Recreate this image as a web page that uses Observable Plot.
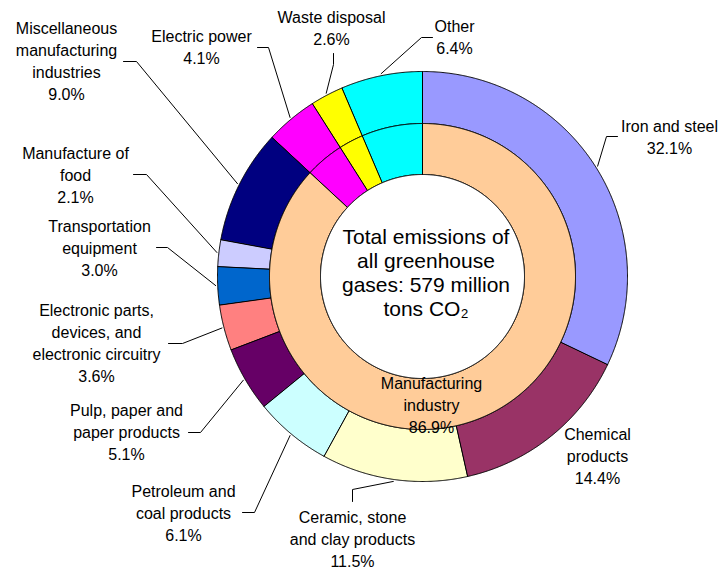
<!DOCTYPE html>
<html>
<head>
<meta charset="utf-8">
<script src="https://cdn.jsdelivr.net/npm/d3@7"></script>
<script src="https://cdn.jsdelivr.net/npm/@observablehq/plot@0.6"></script>
<style>
  html, body { margin: 0; padding: 0; background: #fff; }
  #chart svg { display: block; }
</style>
</head>
<body>
<div id="chart"></div>
<script>
// ---------- DATA ----------
const categories = [
  "Iron and steel", "Chemical products", "Ceramic, stone and clay products",
  "Petroleum and coal products", "Pulp, paper and paper products",
  "Electronic parts, devices, and electronic circuitry", "Transportation equipment",
  "Manufacture of food", "Miscellaneous manufacturing industries",
  "Electric power", "Waste disposal", "Other"
];
const shares = [32.1, 14.4, 11.5, 6.1, 5.1, 3.6, 3.0, 2.1, 9.0, 4.1, 2.6, 6.4];
const labelNames = [
  "Iron and steel", "Chemical\nproducts", "Ceramic, stone\nand clay products",
  "Petroleum and\ncoal products", "Pulp, paper and\npaper products",
  "Electronic parts,\ndevices, and\nelectronic circuitry", "Transportation\nequipment",
  "Manufacture of\nfood", "Miscellaneous\nmanufacturing\nindustries",
  "Electric power", "Waste disposal", "Other"
];
const innerCategories = ["Manufacturing industry", "Electric power", "Waste disposal", "Other"];
const innerShares = [86.9, 4.1, 2.6, 6.4];
const innerLabelNames = ["Manufacturing\nindustry"];
const centerText = "Total emissions of\nall greenhouse\ngases: 579 million\ntons CO\u2082";

// ---------- STYLE / LAYOUT ----------
const palette = ["#9999FF", "#993366", "#FFFFCC", "#CCFFFF", "#660066", "#FF8080",
                 "#0066CC", "#CCCCFF", "#000080", "#FF00FF", "#FFFF00", "#00FFFF", "#FFCC99"];
const W = 724, H = 574, CX = 422, CY = 276, R0 = 102, R1 = 153, R2 = 205;
const FONT = "Liberation Sans, Arial, sans-serif";
// label layout: [text center x, first baseline y, leader end x, end y, elbow x, elbow y] (null = no leader)
const labelLayout = [
  [669, 131, 617, 136, 606, 136],
  [597, 439, null],
  [352, 522, 352, 501, 352, 489],
  [183, 496, 242, 512, 254, 512],
  [126, 415, 188, 432, 200, 432],
  [96, 315, 168, 343, 182, 343],
  [99, 231, 156, 247, 167, 247],
  [75, 158, 133, 174, 146, 174],
  [66, 33, 123, 61, 136, 61],
  [201, 41, 257, 47, 268, 47],
  [331, 22, 333, 53, 333, 64],
  [454, 31, 432, 37, 421, 37]
];
const innerLabelLayout = [[431, 388]];
const centerLayout = [425.5, 243];

// ---------- GEOMETRY ----------
const fmt = d3.format(".1f");
function angles(vals) {
  const total = d3.sum(vals);
  const cum = [0, ...d3.cumsum(vals)];
  return vals.map((v, i) => [cum[i] / total * 2 * Math.PI, cum[i + 1] / total * 2 * Math.PI]);
}
const px = (r, a) => CX + r * Math.sin(a);
const py = (r, a) => CY - r * Math.cos(a);
function ring(cats, vals, rIn, rOut, tag) {
  const pts = [];
  angles(vals).forEach(([a0, a1], i) => {
    const n = Math.max(2, Math.ceil((a1 - a0) / (Math.PI / 720)));
    const key = tag + i;
    for (let k = 0; k <= n; k++) {
      const a = a0 + (a1 - a0) * k / n;
      pts.push({key, cat: cats[i], x: px(rOut, a), y: py(rOut, a)});
    }
    for (let k = n; k >= 0; k--) {
      const a = a0 + (a1 - a0) * k / n;
      pts.push({key, cat: cats[i], x: px(rIn, a), y: py(rIn, a)});
    }
  });
  return pts;
}
const outerPts = ring(categories, shares, R1, R2, "o");
const innerPts = ring(innerCategories, innerShares, R0, R1, "i");
const holePts = d3.range(0, 1440).map(k => ({x: px(R0, k / 1440 * 2 * Math.PI), y: py(R0, k / 1440 * 2 * Math.PI)}));

const outerAngles = angles(shares);
const leaderPts = [];
const labelData = [];
categories.forEach((c, i) => {
  const L = labelLayout[i];
  const text = labelNames[i] + "\n" + fmt(shares[i]) + "%";
  const nLines = text.split("\n").length;
  labelData.push({text, x: L[0], y: L[1] + (nLines - 1) * 22});
  if (L[2] != null) {
    const mid = (outerAngles[i][0] + outerAngles[i][1]) / 2;
    leaderPts.push({key: i, x: px(R2 + 2, mid), y: py(R2 + 2, mid)});
    leaderPts.push({key: i, x: L[4], y: L[5]});
    leaderPts.push({key: i, x: L[2], y: L[3]});
  }
});
const innerLabelData = innerLabelNames.map((t, i) => {
  const text = t + "\n" + fmt(innerShares[i]) + "%";
  const n = text.split("\n").length;
  return {text, x: innerLabelLayout[i][0], y: innerLabelLayout[i][1] + (n - 1) * 22};
});
const centerData = [{text: centerText, x: centerLayout[0], y: centerLayout[1] + 3 * 24.3}];

const chart = Plot.plot({
  width: W, height: H, margin: 0,
  style: {background: "#fff", fontFamily: FONT},
  x: {domain: [0, W], range: [0, W], axis: null},
  y: {domain: [0, H], range: [0, H], axis: null},
  color: {type: "ordinal", domain: [...categories, "Manufacturing industry"], range: palette},
  marks: [
    Plot.line(outerPts, {x: "x", y: "y", z: "key", fill: "cat", stroke: "black", strokeWidth: 1, curve: "linear-closed"}),
    Plot.line(innerPts, {x: "x", y: "y", z: "key", fill: "cat", stroke: "black", strokeWidth: 1, curve: "linear-closed"}),
    Plot.line(holePts, {x: "x", y: "y", fill: "white", stroke: "black", strokeWidth: 1, curve: "linear-closed"}),
    Plot.line(leaderPts, {x: "x", y: "y", z: "key", stroke: "black", strokeWidth: 1}),
    Plot.text(labelData, {x: "x", y: "y", text: "text", fontSize: 16, lineHeight: 1.375, lineAnchor: "bottom", textAnchor: "middle", fill: "black", fontFamily: FONT}),
    Plot.text(innerLabelData, {x: "x", y: "y", text: "text", fontSize: 16, lineHeight: 1.375, lineAnchor: "bottom", textAnchor: "middle", fill: "black", fontFamily: FONT}),
    Plot.text(centerData, {x: "x", y: "y", text: "text", fontSize: 21, lineHeight: 24.3 / 21, lineAnchor: "bottom", textAnchor: "middle", fill: "black", fontFamily: FONT})
  ]
});
document.getElementById("chart").appendChild(chart);
</script>
</body>
</html>
